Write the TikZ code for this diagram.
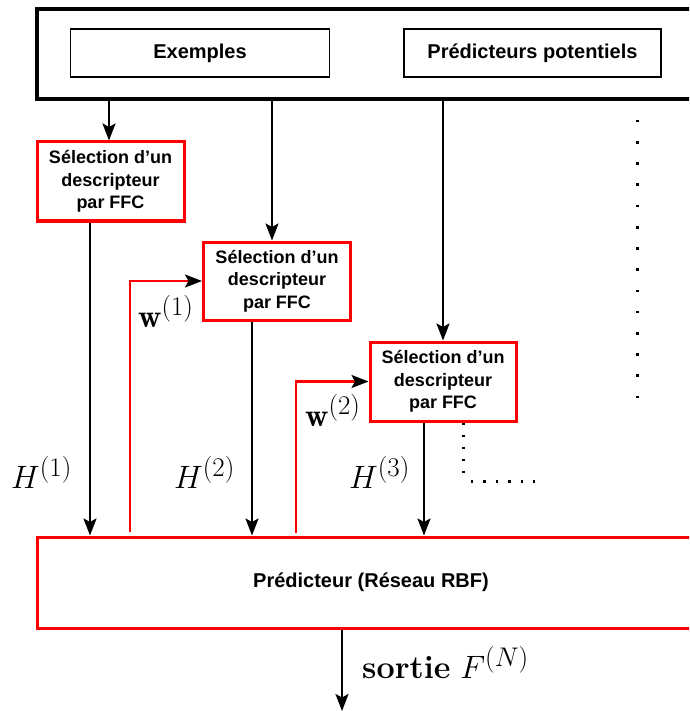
\documentclass[tikz,border=0pt]{standalone}
\usepackage{fontspec}
\newfontfamily\lsans{Liberation Sans}
\usetikzlibrary{arrows.meta}
\newcommand{\mylabeltext}[1]{\scalebox{1.3}{\Huge #1}}
\tikzset{
  outerbox/.style={draw=black, line width=3.4pt, rectangle, inner sep=0pt},
  innerbox/.style={draw=black, line width=1.6pt, rectangle, inner sep=0pt,
    font=\lsans\bfseries\fontsize{20}{24}\selectfont},
  selbox/.style={draw=red, line width=3pt, rectangle, inner sep=0pt, align=center,
    minimum width=147pt, minimum height=79pt,
    font=\lsans\bfseries\fontsize{18}{22.5}\selectfont},
  predbox/.style={draw=red, line width=3pt, rectangle, inner sep=0pt,
    font=\lsans\bfseries\fontsize{20}{24}\selectfont},
  arr/.style={draw=black, line width=2.4pt, -{Stealth[length=17pt,width=13pt,inset=3.5pt]}},
  fb/.style={draw=red, line width=2.4pt, -{Stealth[black,length=17pt,width=13pt,inset=3.5pt]}},
  mlab/.style={inner sep=0pt, anchor=base west},
  dotmark/.style={fill=black}
}
\begin{document}
\begin{tikzpicture}[x=1pt,y=-1pt]
\useasboundingbox (0,0) rectangle (689,711);
\clip (0,0) rectangle (689,711);
\fill[white] (0,0) rectangle (689,711);

% top block
\node[outerbox, minimum width=658pt, minimum height=90pt] (top) at (366,54) {};
\node[innerbox, minimum width=259pt, minimum height=48pt] (ex) at (200,53) {Exemples};
\node[innerbox, minimum width=257pt, minimum height=48pt] (pp) at (532.5,53) {Prédicteurs potentiels};

% selection boxes
\node[selbox] (s1) at (110.5,181.5) {Sélection d’un\\descripteur\\par FFC};
\node[selbox, minimum height=78pt] (s2) at (277,281) {Sélection d’un\\descripteur\\par FFC};
\node[selbox, minimum width=146pt] (s3) at (443,381.5) {Sélection d’un\\descripteur\\par FFC};

% predictor
\node[predbox, minimum width=658pt, minimum height=91pt] (pred) at (366,582.5) {};
\node[inner sep=0pt, font=\lsans\bfseries\fontsize{20}{24}\selectfont] (predtxt) at (371,582) {Prédicteur (Réseau RBF)};

% coordinates for connector x positions
\coordinate (a1) at (109,0);
\coordinate (a2) at (272,0);
\coordinate (h1) at (90,0);
\coordinate (h2) at (252,0);
\coordinate (h3) at (424,0);
\coordinate (w1b) at (130,532);
\coordinate (w2b) at (296,533);
\coordinate (outend) at (342,711);

% arrows from top block
\draw[arr] (top.south -| a1) -- (s1.north -| a1);
\draw[arr] (top.south -| a2) -- (s2.north -| a2);
\draw[arr] (top.south -| s3.north) -- (s3.north);

% H arrows
\draw[arr] (s1.south -| h1) -- (pred.north -| h1);
\draw[arr] (s2.south -| h2) -- (pred.north -| h2);
\draw[arr] (s3.south -| h3) -- (pred.north -| h3);

% feedback
\draw[fb] (w1b) |- (s2.west);
\draw[fb] (w2b) |- (s3.west);

% output
\draw[arr] (pred.south -| outend) -- (outend);

% dotted column on the right
\foreach \k in {1,...,14} {
  \fill[dotmark] (636,{100+21.2*\k-1.3}) rectangle (638.6,{100+21.2*\k+1.3});
}
% dotted path after third selection
\foreach \yy in {424,436,448,460,472} {
  \fill[dotmark] (462,{\yy-1.3}) rectangle (464.6,{\yy+1.3});
}
\foreach \xx in {472,484.5,497,509.5,522,534} {
  \fill[dotmark] ({\xx-1.3},480) rectangle ({\xx+1.3},482.6);
}

% labels
\node[mlab] (lh1) at (11,488) {\mylabeltext{$H^{(1)}$}};
\node[mlab] (lh2) at (174,488) {\mylabeltext{$H^{(2)}$}};
\node[mlab] (lh3) at (349,488) {\mylabeltext{$H^{(3)}$}};
\node[mlab] (lw1) at (138,327) {\mylabeltext{$\mathbf{w}^{(1)}$}};
\node[mlab] (lw2) at (305,426) {\mylabeltext{$\mathbf{w}^{(2)}$}};
\node[mlab] (lout) at (362,678) {\mylabeltext{\textbf{sortie} $F^{(N)}$}};
\end{tikzpicture}
\end{document}
